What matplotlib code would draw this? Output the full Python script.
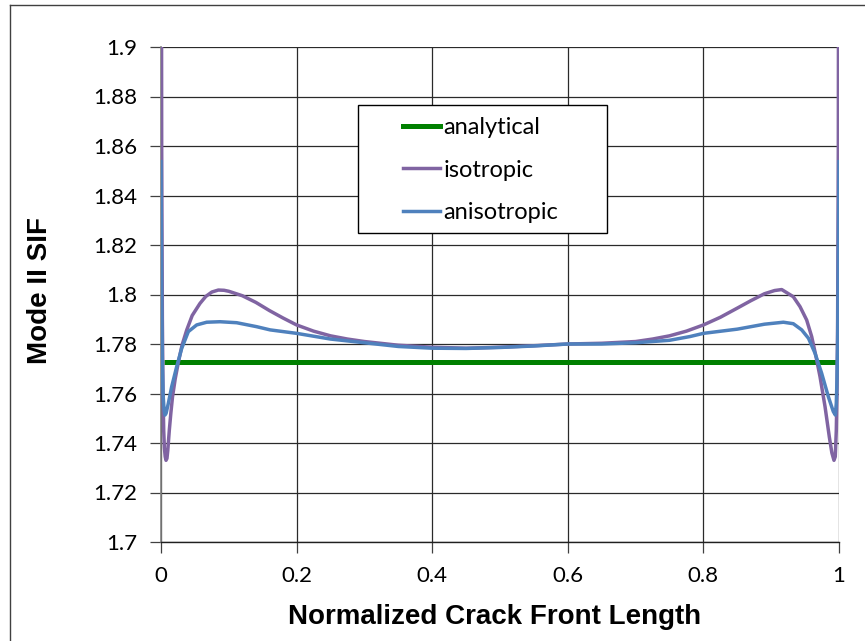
import matplotlib
matplotlib.use("Agg")
import matplotlib.pyplot as plt
from matplotlib.lines import Line2D
from matplotlib.patches import Rectangle

# ---- data ----
analytical_x = [0.005, 1.0]
analytical_y = [1.7726, 1.7726]

iso_x = [0.0, 0.001, 0.002, 0.003, 0.004, 0.005, 0.0062, 0.0074, 0.0088, 0.010,
         0.0123, 0.0145, 0.017, 0.021, 0.0256, 0.031, 0.038, 0.046, 0.0575, 0.066,
         0.075, 0.0846, 0.093, 0.10, 0.12, 0.14, 0.16, 0.18, 0.2, 0.225, 0.25,
         0.275, 0.3, 0.35, 0.4, 0.45, 0.5, 0.55, 0.6, 0.65, 0.7, 0.725, 0.75,
         0.775, 0.8, 0.825, 0.85, 0.87, 0.89, 0.905, 0.9155, 0.9326, 0.9425,
         0.9523, 0.9597, 0.9661, 0.972, 0.9794, 0.9857, 0.9895, 0.9926, 0.9945,
         0.996, 0.997, 0.998, 0.999, 1.0]
iso_y = [2.10, 1.86, 1.79, 1.76, 1.745, 1.738, 1.7345, 1.733, 1.7338, 1.737,
         1.7453, 1.752, 1.7587, 1.766, 1.7726, 1.7795, 1.7857, 1.7915, 1.7964, 1.7992,
         1.8010, 1.8018, 1.8017, 1.8013, 1.7995, 1.7968, 1.7935, 1.7905, 1.7877, 1.7852, 1.7833,
         1.7820, 1.7810, 1.7795, 1.7787, 1.7783, 1.7787, 1.7793, 1.7800, 1.7803, 1.7810, 1.7820, 1.7833,
         1.7852, 1.7877, 1.7908, 1.7945, 1.7975, 1.8003, 1.8016, 1.8020, 1.7991, 1.7951,
         1.7897, 1.7830, 1.7749, 1.7668, 1.7547, 1.7425, 1.7360, 1.7330, 1.7345,
         1.745, 1.760, 1.790, 1.860, 2.10]

aniso_x = [0.0, 0.001, 0.002, 0.003, 0.0045, 0.0059, 0.0075, 0.0108, 0.0157, 0.0231,
           0.0305, 0.0403, 0.0526, 0.0674, 0.087, 0.1116, 0.141, 0.161, 0.2, 0.25,
           0.3, 0.35, 0.4, 0.45, 0.5, 0.55, 0.6, 0.65, 0.7, 0.75, 0.78, 0.8, 0.85,
           0.89, 0.918, 0.9326, 0.945, 0.955, 0.9646, 0.9744, 0.9843, 0.9916,
           0.9946, 0.996, 0.997, 0.998, 0.999, 1.0]
aniso_y = [1.8537, 1.800, 1.772, 1.760, 1.7535, 1.7513, 1.7520, 1.7560, 1.7627, 1.7708,
           1.7782, 1.7850, 1.7877, 1.7888, 1.7890, 1.7886, 1.7870, 1.7857, 1.7843, 1.7820,
           1.7805, 1.7790, 1.7783, 1.7782, 1.7786, 1.7792, 1.7800, 1.7800, 1.7805, 1.7815, 1.7830, 1.7843, 1.7860,
           1.7880, 1.7888, 1.7882, 1.7857, 1.7823, 1.7763, 1.7682, 1.7587, 1.7527,
           1.7513, 1.7560, 1.7650, 1.780, 1.815, 1.8537]

x_ticks = [0, 0.2, 0.4, 0.6, 0.8, 1]
x_ticklabels = ["0", "0.2", "0.4", "0.6", "0.8", "1"]
y_ticks = [1.7, 1.72, 1.74, 1.76, 1.78, 1.8, 1.82, 1.84, 1.86, 1.88, 1.9]
y_ticklabels = ["1.7", "1.72", "1.74", "1.76", "1.78", "1.8", "1.82", "1.84", "1.86", "1.88", "1.9"]
series_names = ["analytical", "isotropic", "anisotropic"]

c_green = "#008000"
c_purple = "#8064A2"
c_blue = "#4F81BD"

fig = plt.figure(figsize=(8.65, 6.41), dpi=100)
ax = fig.add_axes([161/865, 1 - 542/641, (839-161)/865, (542-47)/641])

ax.plot(analytical_x, analytical_y, color=c_green, lw=3.6, solid_capstyle="butt", zorder=3)
ax.plot(iso_x, iso_y, color=c_purple, lw=2.5, zorder=4, solid_joinstyle="round")
ax.plot(aniso_x, aniso_y, color=c_blue, lw=2.5, zorder=5, solid_joinstyle="round")

ax.set_xlim(0, 1)
ax.set_ylim(1.7, 1.9)
ax.set_xticks(x_ticks)
ax.set_xticklabels(x_ticklabels)
ax.set_yticks(y_ticks)
ax.set_yticklabels(y_ticklabels)

ax.grid(True, color="#2a2a2a", lw=0.9)
ax.set_axisbelow(True)
for s in ["top", "right"]:
    ax.spines[s].set_visible(False)
ax.spines["left"].set_color("#808080")
ax.spines["left"].set_linewidth(1.2)
ax.spines["bottom"].set_color("#202020")
ax.spines["bottom"].set_linewidth(1.0)

ax.tick_params(axis="both", direction="out", length=8, width=0.9, color="#404040",
               labelsize=16)
ax.tick_params(axis="y", pad=9)
ax.tick_params(axis="x", pad=9)
for lab in ax.get_xticklabels() + ax.get_yticklabels():
    lab.set_fontfamily("Lato")

ax.set_xlabel("Normalized Crack Front Length", fontsize=20, fontweight="bold",
              family="Liberation Sans", va="center", ha="center")
ax.xaxis.set_label_coords((495-161)/678, (542-617)/495)
ax.set_ylabel("Mode II SIF", fontsize=20, fontweight="bold",
              family="Liberation Sans", va="center", ha="center")
ax.yaxis.set_label_coords((40-161)/678, (542-291)/495)

# legend frame (Excel style, wide left padding)
frame = Rectangle((0.2906, 0.6242), 0.6578 - 0.2906, 0.8828 - 0.6242,
                  transform=ax.transAxes, facecolor="white", edgecolor="black",
                  lw=1.0, zorder=6)
ax.add_patch(frame)

handles = [Line2D([], [], color=c_green, lw=3.6),
           Line2D([], [], color=c_purple, lw=2.5),
           Line2D([], [], color=c_blue, lw=2.5)]
leg = ax.legend(handles, series_names,
                loc="upper left", bbox_to_anchor=((403-161)/678, (542-117)/495),
                frameon=False, prop=dict(family="Lato", size=17),
                handlelength=1.55, handletextpad=0.15, labelspacing=0.92,
                borderpad=0.0, borderaxespad=0.0)
leg.set_zorder(10)

# outer chart border (cropped)
fig.add_artist(Line2D([10/865, 10/865], [0, 1 - 5/641], transform=fig.transFigure,
                      color="#404040", lw=1.0))
fig.add_artist(Line2D([10/865, 1], [1 - 5/641, 1 - 5/641], transform=fig.transFigure,
                      color="#404040", lw=1.0))

fig.savefig("out.png", dpi=100)
